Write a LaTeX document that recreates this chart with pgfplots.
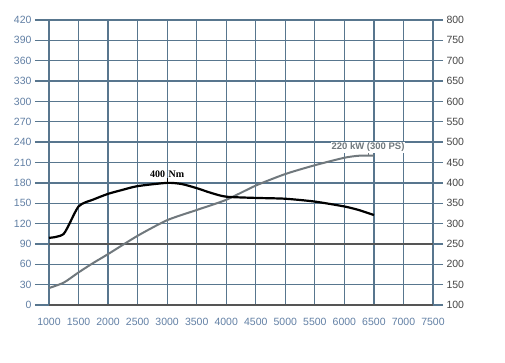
\documentclass[border=0pt]{standalone}
\usepackage{pgfplots}
\pgfplotsset{compat=1.18}
\usepackage{fontspec}
\setmainfont{Liberation Sans}
\newfontfamily\serifb{Liberation Serif}
\definecolor{gridc}{RGB}{88,118,142}
\definecolor{gridd}{RGB}{85,85,85}
\definecolor{labl}{RGB}{98,128,165}
\definecolor{labr}{RGB}{70,70,70}
\definecolor{pow}{RGB}{112,120,125}

\pgfplotstableread{
rpm kw
1000 25
1250 33
1500 48
1750 62
2000 75
2500 102
3000 125
3500 140
4000 155
4500 176
5000 193
5500 206
6000 217
6250 220
6500 220
}\power

\pgfplotstableread{
rpm nm
1000 265
1250 275
1500 342
1750 359
2000 373
2250 383
2500 392
3000 400
3250 397
3500 387
3750 375
4000 366
4500 363
5000 361
5500 354
6000 342
6250 333
6500 321
}\torque

\begin{document}
\begin{tikzpicture}[x=1pt,y=1pt]
\useasboundingbox[fill=white] (0,0) rectangle (505,363);
\begin{axis}[
  at={(49pt,58pt)}, anchor=south west,
  scale only axis, width=384pt, height=285pt,
  xmin=1000, xmax=7500, ymin=0, ymax=420,
  axis y line*=left, axis x line*=bottom,
  axis line style={draw=none},
  xtick={1000,1500,...,7500},
  ytick={30,60,120,150,180,210,240,270,300,330,360,390,420},
  extra y ticks={0,90},
  extra y tick style={major grid style={draw=gridd, line width=1.4pt}, major tick style={draw=gridd, line width=1.4pt}},
  grid=major,
  major grid style={draw=gridc, line width=1.3pt},
  tick align=outside,
  xtick style={draw=none},
  ytick style={draw=gridc, line width=1.3pt},
  major tick length=14pt,
  tick label style={font=\fontsize{10.5}{12}\selectfont},
  xticklabel style={labl, yshift=4pt},
  yticklabel style={labl},
  /pgf/number format/assume math mode=true,
  /pgf/number format/1000 sep={},
  clip=false,
]
\addplot[pow, line width=2pt, smooth, tension=0.4] table[x=rpm, y=kw] {\power};
\draw[pow, line width=0.8pt] (axis cs:6400,221) -- (axis cs:6400,227.5);
\node[anchor=base, fill=white, inner sep=1pt, text=pow, font=\fontsize{9.5}{11}\selectfont\bfseries] at (axis cs:6400,228.5) {220 kW (300 PS)};
\end{axis}
\begin{axis}[
  at={(49pt,58pt)}, anchor=south west,
  scale only axis, width=384pt, height=285pt,
  xmin=1000, xmax=7500, ymin=100, ymax=800,
  axis x line=none, axis y line*=right,
  axis line style={draw=none},
  ytick={150,200,300,350,400,450,500,550,600,650,700,750,800},
  extra y ticks={100,250},
  extra y tick style={major tick style={draw=gridd, line width=1.4pt}},
  tick align=outside,
  ytick style={draw=gridc, line width=1.3pt},
  major tick length=10pt,
  tick label style={font=\fontsize{10.5}{12}\selectfont},
  yticklabel style={labr},
  /pgf/number format/assume math mode=true,
  clip=false,
]
\addplot[black, line width=2.2pt, smooth, tension=0.4] table[x=rpm, y=nm] {\torque};
\draw[black, line width=0.8pt] (axis cs:3000,400) -- (axis cs:3000,412);
\node[anchor=base, inner sep=0pt, font=\fontsize{10}{12}\selectfont\serifb\bfseries] at (axis cs:3000,414) {400\,\,Nm};
\end{axis}
\end{tikzpicture}
\end{document}
